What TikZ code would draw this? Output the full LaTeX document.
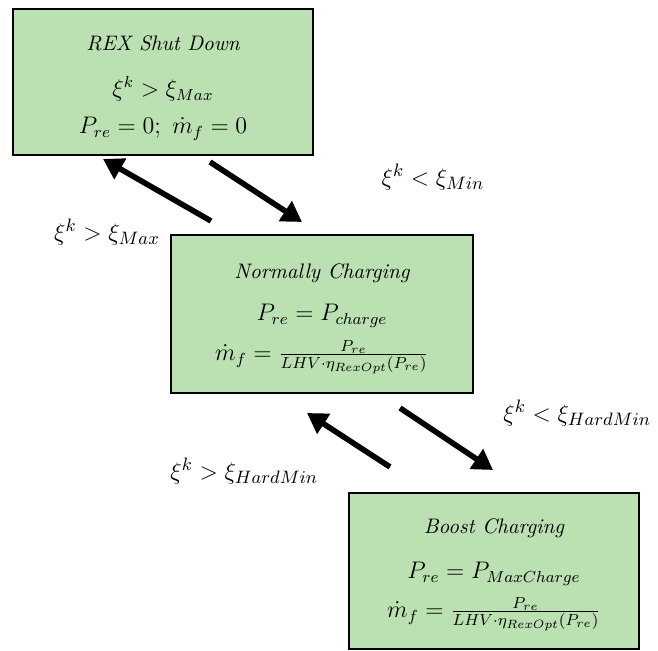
\documentclass[tikz,border=0pt]{standalone}
\usepackage{amsmath}
\usetikzlibrary{arrows.meta}
\definecolor{boxgreen}{RGB}{187,224,177}
\begin{document}
\begin{tikzpicture}[x=0.5pt,y=-0.5pt,
  statebox/.style={draw=black, line width=1.2pt, fill=boxgreen, inner sep=0pt},
  flow/.style={line width=2.8pt, -{Triangle[length=10pt,width=11.5pt]}},
  lbl/.style={font=\fontsize{13}{15}\selectfont, inner sep=0pt},
  ttl/.style={font=\fontsize{10.5}{12}\selectfont\itshape, inner sep=0pt},
  eqn/.style={font=\fontsize{11.5}{13}\selectfont, inner sep=0pt}]
\useasboundingbox (0,0) rectangle (658,651);
% boxes
\node[statebox, minimum width=150pt, minimum height=73pt] (rex) at (163,82) {};
\node[statebox, minimum width=151pt, minimum height=79pt] (norm) at (322,314) {};
\node[statebox, minimum width=145pt, minimum height=78pt] (boost) at (494,571) {};
% box texts
\node[ttl] (rexT) at (163,43) {REX Shut Down};
\node[eqn] (rexA) at (163,89) {$\xi^{k} > \xi_{Max}$};
\node[eqn] (rexB) at (163,129) {$P_{re} = 0;\ \dot{m}_f = 0$};
\node[ttl] (normT) at (322,273) {Normally Charging};
\node[eqn] (normA) at (322,316) {$P_{re} = P_{charge}$};
\node[eqn] (normB) at (322,357) {$\dot{m}_f = \frac{P_{re}}{LHV\cdot\eta_{RexOpt}(P_{re})}$};
\node[ttl] (boostT) at (494,528) {Boost Charging};
\node[eqn] (boostA) at (494,574) {$P_{re} = P_{MaxCharge}$};
\node[eqn] (boostB) at (494,614) {$\dot{m}_f = \frac{P_{re}}{LHV\cdot\eta_{RexOpt}(P_{re})}$};
% arrow end points
\coordinate (a1s) at (211,221); \coordinate (a1e) at (103,159);
\coordinate (a2s) at (210,162); \coordinate (a2e) at (302,222);
\coordinate (a3s) at (390,467); \coordinate (a3e) at (307,413);
\coordinate (a4s) at (400,408); \coordinate (a4e) at (493,470);
\draw[flow] (a1s) -- (a1e);
\draw[flow] (a2s) -- (a2e);
\draw[flow] (a3s) -- (a3e);
\draw[flow] (a4s) -- (a4e);
% labels
\node[lbl] (lMin) at (433,177) {$\xi^{k} < \xi_{Min}$};
\node[lbl] (lMax) at (107,232) {$\xi^{k} > \xi_{Max}$};
\node[lbl, anchor=west] (lHMinL) at (503,413) {$\xi^{k} < \xi_{HardMin}$};
\node[lbl, anchor=west] (lHMinG) at (170,471) {$\xi^{k} > \xi_{HardMin}$};
\end{tikzpicture}
\end{document}
